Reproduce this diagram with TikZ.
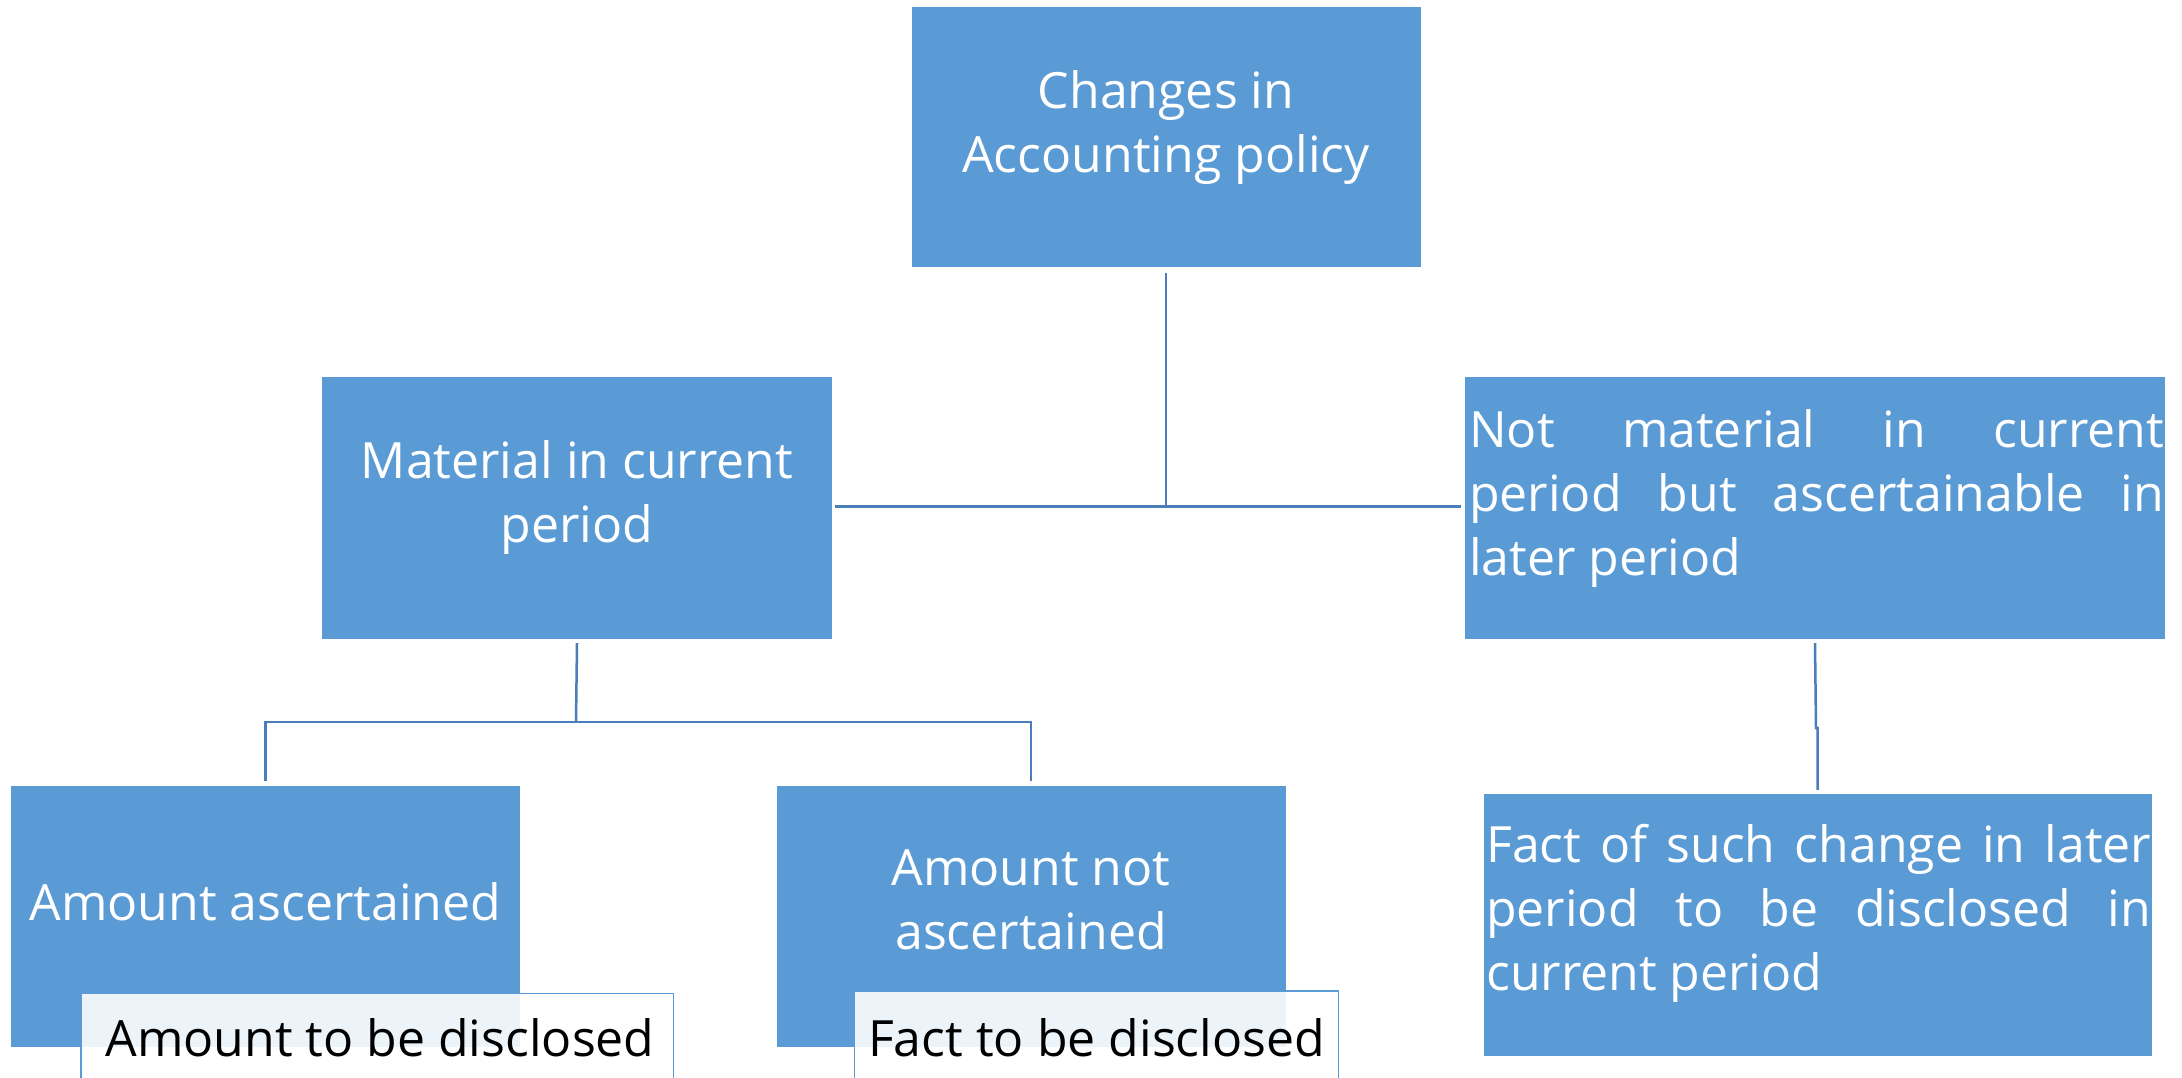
\documentclass[tikz,border=0pt]{standalone}
\usepackage{fontspec}
\setmainfont{Open Sans}
\definecolor{boxblue}{HTML}{5B9BD5}
\definecolor{lineblue}{HTML}{4A7EBB}
\hyphenpenalty=10000
\begin{document}
\begin{tikzpicture}[x=1pt,y=1pt,
  bluebox/.style={draw=none,fill=boxblue,rectangle,inner sep=0pt},
  whitetxt/.style={text=white,font=\fontsize{50}{64}\selectfont,align=center,inner sep=0pt},
  justtxt/.style={text=white,font=\fontsize{50}{64}\selectfont,inner sep=0pt,anchor=north west,align=justify},
  overbox/.style={draw=boxblue,line width=1.5pt,fill=white,fill opacity=0.89,rectangle,inner sep=0pt},
  blacktxt/.style={text=black,font=\fontsize{50}{64}\selectfont,inner sep=0pt},
  conn/.style={draw=lineblue,line width=2.5pt}]
\useasboundingbox (0,0) rectangle (2182,-1077);
\clip (0,0) rectangle (2182,-1077);
\fill[white] (0,0) rectangle (2182,-1077);
% boxes
\node[bluebox,minimum width=509,minimum height=260] (top) at (1166,-137) {};
\node[whitetxt] (toptxt) at (1166,-127.5) {Changes in\\Accounting policy};
\node[bluebox,minimum width=510,minimum height=262] (mat) at (577,-508) {};
\node[whitetxt] (mattxt) at (577,-497.5) {Material in current\\period};
\node[bluebox,minimum width=700,minimum height=262] (notmat) at (1815,-508) {};
\node[justtxt,text width=695] (notmattxt) at (1469,-409) {Not material in current\linebreak period but ascertainable in\linebreak later period};
\node[bluebox,minimum width=509,minimum height=261] (asc) at (265.5,-916) {};
\node[whitetxt] (asctxt) at (265.5,-902) {Amount ascertained};
\node[bluebox,minimum width=509,minimum height=261] (nasc) at (1031,-916) {};
\node[whitetxt] (nasctxt) at (1031,-900) {Amount not\\ascertained};
\node[bluebox,minimum width=668,minimum height=262] (fact) at (1817.5,-925) {};
\node[justtxt,text width=665] (facttxt) at (1486,-824.5) {Fact of such change in later\linebreak period to be disclosed in\linebreak current period};
% connectors
\coordinate (hub) at (1166,-506.5);
\draw[conn] ([yshift=-6]top.south) -- (hub);
\draw[conn] ([xshift=3]mat.east |- hub) -- ([xshift=-4]notmat.west |- hub);
\coordinate (lhub) at (576,-722);
\draw[conn] ([yshift=-4]mat.south) -- (lhub);
\draw[conn] ([yshift=4]asc.north) -- (asc.north |- lhub) -- (nasc.north |- lhub) -- ([yshift=4]nasc.north);
\coordinate (jog) at (1816,-728);
\draw[conn] ([yshift=-4]notmat.south) -- (jog) -- ++(1.5,0) -- ([yshift=4]fact.north);
% overlay boxes
\node[overbox,minimum width=592.5,minimum height=110] (amtdis) at (377.25,-1048.5) {};
\node[blacktxt] (amtdistxt) at (380,-1038) {Amount to be disclosed};
\node[overbox,minimum width=484,minimum height=112] (factdis) at (1096.6,-1047) {};
\node[blacktxt] (factdistxt) at (1096.6,-1038) {Fact to be disclosed};
\end{tikzpicture}
\end{document}
